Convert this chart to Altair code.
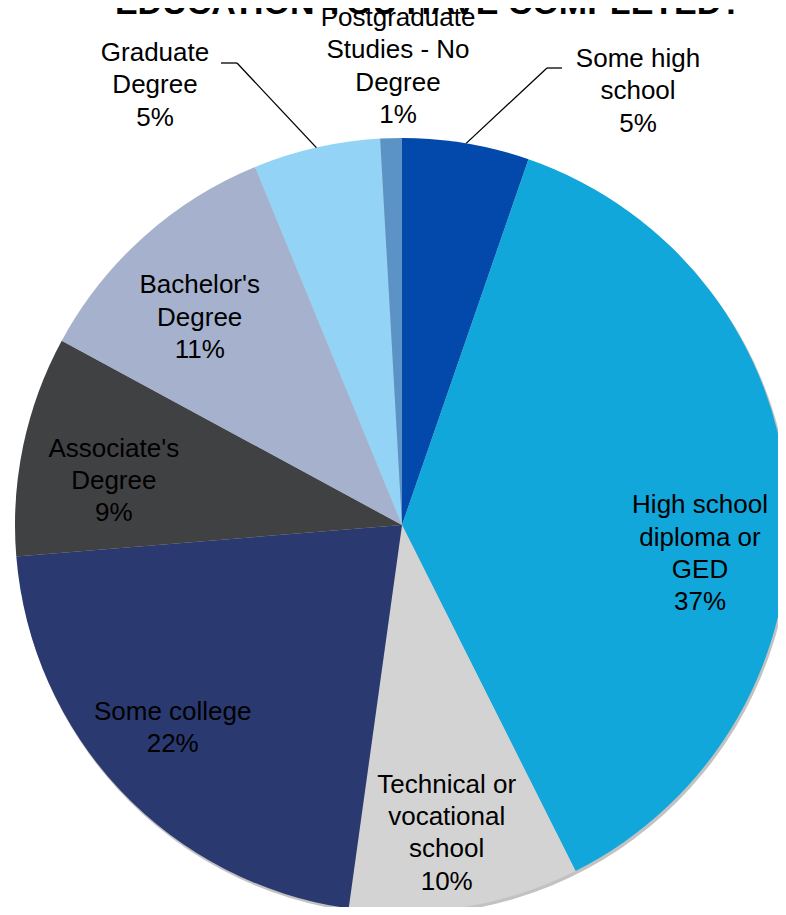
import math
import altair as alt
import pandas as pd

# ---- data ----
categories = [
    "Some high school",
    "High school diploma or GED",
    "Technical or vocational school",
    "Some college",
    "Associate's Degree",
    "Bachelor's Degree",
    "Graduate Degree",
    "Postgraduate Studies - No Degree",
]
shares = [5.3, 37.3, 9.6, 21.5, 9.2, 10.9, 5.3, 0.9]
colors = ["#0349AB", "#11A7DB", "#D3D3D3", "#2A396F", "#404143", "#A6B1CD", "#93D4F6", "#5B93C6"]
title_text = "EDUCATION YOU HAVE COMPLETED?"

# ---- layout (chart pixel coordinates) ----
W, H = 770, 899
CX, CY, R = 394, 517, 387
label_lines = [
    ["Some high", "school"],
    ["High school", "diploma or", "GED"],
    ["Technical or", "vocational", "school"],
    ["Some college"],
    ["Associate's", "Degree"],
    ["Bachelor's", "Degree"],
    ["Graduate", "Degree"],
    ["Postgraduate", "Studies - No", "Degree"],
]
label_x = [630, 692, 438.7, 164.7, 105.8, 191.7, 147, 390]
label_y = [59, 505.3, 784.7, 712, 448.7, 285.3, 53, 18]
# leader lines: (start x, start y, elbow x, elbow y) per category index
leaders = {0: (554, 60, 539, 60), 6: (213, 55, 229, 55)}
FONT = "Liberation Sans"

df = pd.DataFrame({"category": categories, "share": shares, "idx": list(range(len(categories)))})

pct = [f"{int(v + 0.5)}%" for v in shares]
lab = pd.DataFrame({
    "text": ["\n".join(lines + [p]) for lines, p in zip(label_lines, pct)],
    "lx": label_x,
    "ly": label_y,
})

# leader segments computed from slice mid angles
total = sum(shares)
cum = 0.0
mids = []
for v in shares:
    mids.append((cum + v / 2) / total * 2 * math.pi)
    cum += v
segs = []
for i, (sx, sy, ex, ey) in leaders.items():
    ax = CX + R * math.sin(mids[i])
    ay = CY - R * math.cos(mids[i])
    segs.append({"x": sx, "y": sy, "x2": ex, "y2": ey})
    segs.append({"x": ex, "y": ey, "x2": ax, "y2": ay})
seg_df = pd.DataFrame(segs)

shadow = alt.Chart(pd.DataFrame({"a": [0]})).mark_arc(
    radius=R + 0.5, color="#8f8f8f", opacity=0.55
).encode(
    theta=alt.value(0), theta2=alt.value(2 * math.pi),
    x=alt.value(CX + 1.5), y=alt.value(CY + 2.5),
)

pie = alt.Chart(df).mark_arc(radius=R).encode(
    theta=alt.Theta("share:Q", stack=True),
    order=alt.Order("idx:Q"),
    color=alt.Color("category:N", scale=alt.Scale(domain=categories, range=colors), legend=None),
    x=alt.value(CX), y=alt.value(CY),
)

rules = alt.Chart(seg_df).mark_rule(color="black", strokeWidth=1.3).encode(
    x=alt.X("x:Q", scale=None), y=alt.Y("y:Q", scale=None),
    x2="x2:Q", y2="y2:Q",
)

labels = alt.Chart(lab).mark_text(
    font=FONT, fontSize=26, lineHeight=32.3, lineBreak="\n",
    align="center", baseline="alphabetic", color="black",
).encode(
    x=alt.X("lx:Q", scale=None), y=alt.Y("ly:Q", scale=None), text="text:N",
)

title = alt.Chart(pd.DataFrame({"t": [title_text]})).mark_text(
    font=FONT, fontSize=34, fontWeight="bold", align="center", baseline="alphabetic", color="black",
).encode(x=alt.value(420.5), y=alt.value(6), text="t:N")

chart = alt.layer(shadow, pie, rules, labels, title).properties(
    width=W, height=H, autosize=alt.AutoSizeParams(type="none"), padding=0,
).configure_view(stroke=None)

chart.save("out.html", embed_options={"renderer": "svg", "actions": False})
